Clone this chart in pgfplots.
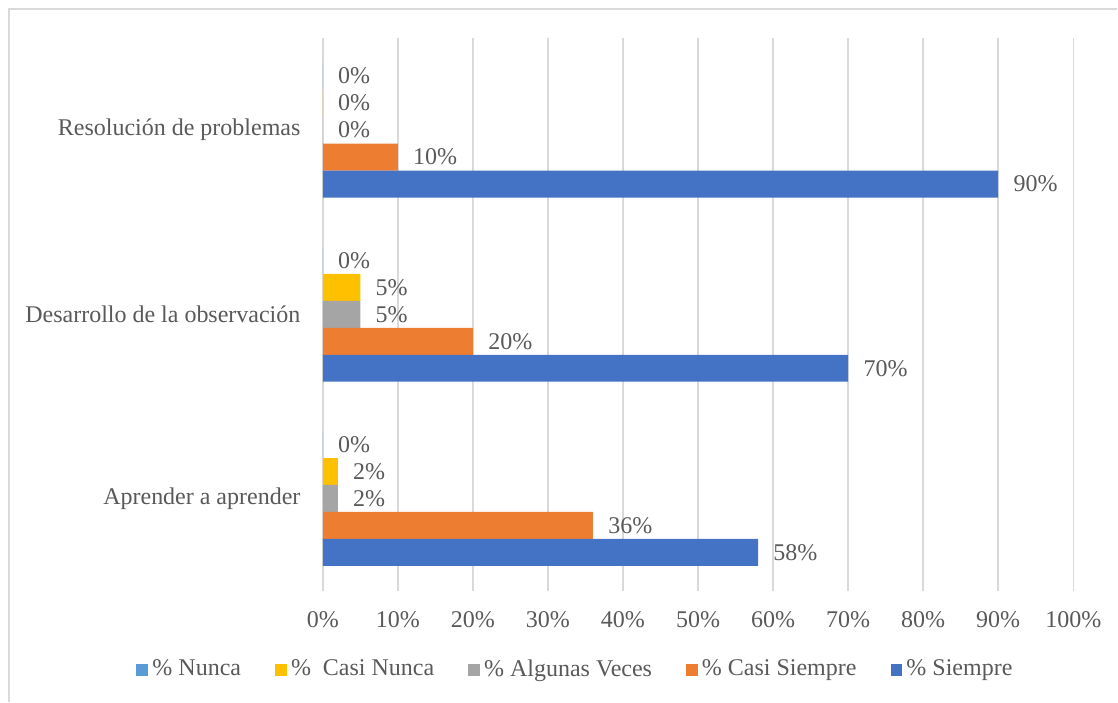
\documentclass[border=0pt]{standalone}
\usepackage{fontspec}
\setmainfont{Liberation Serif}
\usepackage{pgfplots}
\pgfplotsset{compat=1.18}

\definecolor{cNunca}{HTML}{5B9BD5}
\definecolor{cCasiNunca}{HTML}{FFC000}
\definecolor{cAlgunas}{HTML}{A5A5A5}
\definecolor{cCasiSiempre}{HTML}{ED7D31}
\definecolor{cSiempre}{HTML}{4472C4}
\definecolor{txt}{HTML}{595959}
\definecolor{gridc}{HTML}{D9D9D9}

\begin{document}
\fontsize{12}{14.4}\selectfont\color{txt}
\begin{tikzpicture}
\path (0,0) rectangle (559pt,351pt);
\draw[gridc, line width=0.75pt] (4.5pt,0) -- (4.5pt,346.5pt) -- (559pt,346.5pt);
\begin{axis}[
  at={(161.5pt,55.5pt)}, anchor=south west,
  scale only axis, width=375.5pt, height=276.5pt,
  xbar, bar width=13.5pt,
  xmin=0, xmax=100, ymin=-0.5, ymax=2.5,
  xtick={0,10,...,100},
  ytick={0,1,2},
  yticklabels={Aprender a aprender, Desarrollo de la observación, Resolución de problemas},
  xmajorgrids, grid style={gridc, line width=0.75pt},
  axis line style={draw=none},
  major tick length=0pt,
  /pgf/number format/assume math mode=true,
  xticklabel={\pgfmathprintnumber{\tick}\%},
  xticklabel style={yshift=-6.5pt},
  yticklabel style={xshift=-7pt},
  point meta=x,
  nodes near coords={\pgfmathprintnumber{\pgfplotspointmeta}\%},
  nodes near coords style={anchor=west, inner sep=0pt, xshift=7.5pt},
  legend columns=-1,
  legend style={draw=none, fill=none, at={(0.338,-0.143)}, anchor=center,
    /tikz/every even column/.append style={column sep=15pt}},
  legend image code/.code={\fill[#1] (-1pt,-3pt) rectangle (5pt,3pt);},
]
% y: 0 = Aprender a aprender, 1 = Desarrollo de la observacion, 2 = Resolucion de problemas
\addplot[fill=cNunca, draw=none, bar shift=27pt] coordinates {(0,0) (0,1) (0,2)};
\addplot[fill=cCasiNunca, draw=none, bar shift=13.5pt] coordinates {(2,0) (5,1) (0,2)};
\addplot[fill=cAlgunas, draw=none, bar shift=0pt] coordinates {(2,0) (5,1) (0,2)};
\addplot[fill=cCasiSiempre, draw=none, bar shift=-13.5pt] coordinates {(36,0) (20,1) (10,2)};
\addplot[fill=cSiempre, draw=none, bar shift=-27pt] coordinates {(58,0) (70,1) (90,2)};
\legend{\% Nunca, \%\ \ Casi Nunca, \% Algunas Veces, \% Casi Siempre, \% Siempre}
\end{axis}
\end{tikzpicture}
\end{document}
